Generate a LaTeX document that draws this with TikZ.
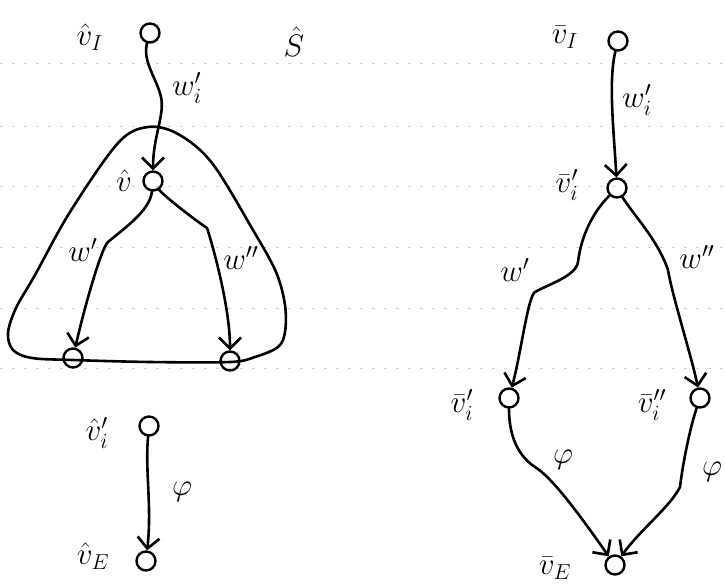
\documentclass[tikz,border=0pt]{standalone}
\usetikzlibrary{arrows.meta}
\begin{document}
\begin{tikzpicture}[x=1pt,y=-1pt,
  vtx/.style={circle,draw,line width=2.4pt,minimum size=19pt,inner sep=0pt},
  edge/.style={line width=2.6pt,line cap=round,line join=round,-{Straight Barb[length=11pt,width=22pt,line width=2.6pt]}},
  hull/.style={line width=2.6pt},
  rule/.style={gray!35,line width=0.8pt,dash pattern=on 3pt off 9pt},
  lbl/.style={font=\huge,scale=1.5,inner sep=0pt}]
\useasboundingbox (0,0) rectangle (725,584);
% faint ruled lines of the paper
\foreach \yy in {63,126,186,247,308,368}
  \draw[rule] (0,\yy) -- (725,\yy);
% ---------- left figure ----------
\node[vtx] (lI) at (150,33) {};
\node[vtx] (lv) at (153,181) {};
\node[vtx] (la) at (73,358) {};
\node[vtx] (lb) at (230,361) {};
\node[vtx] (lc) at (149,426) {};
\node[vtx] (lE) at (146,561) {};
\coordinate (p1) at (161,97);
\coordinate (p2) at (108,242);
\coordinate (p3) at (207,228);
% enclosing curve S
\draw[hull] plot[smooth cycle,tension=0.55] coordinates {
  (148,127) (178,134) (212,163) (253,230) (276,272) (285,305) (285,332)
  (278,347) (255,357) (230,362) (150,362) (73,360) (32,358) (13,350)
  (8,333) (16,308) (35,275) (70,212) (118,143)};
\draw[edge] (lI) .. controls +(-8,28) and +(-4,-18) .. (p1)
  .. controls +(4,18) and +(0,-45) .. (lv);
\draw[edge] (lv) .. controls +(-3,30) and +(14,-12) .. (p2)
  .. controls +(-7,6) and +(10,-45) .. (la);
\draw[edge] (lv) .. controls +(10,14) and +(-15,-10) .. (p3)
  .. controls +(5,15) and +(0,-55) .. (lb);
\draw[edge] (lc) .. controls +(-4,45) and +(6,-55) .. (lE);
\node[lbl] (tlI) at (90,37) {$\hat v_I$};
\node[lbl] (tlS) at (294,42) {$\hat S$};
\node[lbl] (tlw) at (187,88) {$w_i'$};
\node[lbl] (tlv) at (124,181) {$\hat v$};
\node[lbl] (tlw1) at (83,250) {$w'$};
\node[lbl] (tlw2) at (241,258) {$w''$};
\node[lbl] (tlc) at (97,433) {$\hat v_i'$};
\node[lbl] (tlphi) at (182,492) {$\varphi$};
\node[lbl] (tlE) at (93,556) {$\hat v_E$};
% ---------- right figure ----------
\node[vtx] (rI) at (618,41) {};
\node[vtx] (ri) at (617,188) {};
\node[vtx] (ra) at (509,398) {};
\node[vtx] (rb) at (700,398) {};
\node[vtx] (rE) at (615,565) {};
\coordinate (p4) at (578,262);
\coordinate (p5) at (535,292);
\coordinate (p6) at (668,270);
\coordinate (p7) at (535,467);
\coordinate (p8) at (680,487);
\draw[edge] (rI) .. controls +(-10,40) and +(-3,-55) .. (ri);
\draw[edge] (ri) .. controls +(-25,25) and +(3,-25) .. (p4)
  .. controls +(-2,14) and +(14,-8) .. (p5)
  .. controls +(-7,4) and +(12,-45) .. (ra);
\draw[edge] (ri) .. controls +(15,25) and +(-10,-30) .. (p6)
  .. controls +(4,25) and +(-8,-40) .. (rb);
\draw[edge] (ra) .. controls +(0,45) and +(-12,-8) .. (p7)
  .. controls +(20,12) and +(-25,-35) .. (rE);
\draw[edge] (rb) .. controls +(-10,30) and +(3,-25) .. (p8)
  .. controls +(-10,20) and +(25,-35) .. (rE);
\node[lbl] (trI) at (565,37) {$\bar v_I$};
\node[lbl] (trw) at (637,100) {$w_i'$};
\node[lbl] (tri) at (567,185) {$\bar v_i'$};
\node[lbl] (trw1) at (515,270) {$w'$};
\node[lbl] (trw2) at (697,257) {$w''$};
\node[lbl] (tra) at (462,405) {$\bar v_i'$};
\node[lbl] (trb) at (652,405) {$\bar v_i''$};
\node[lbl] (trphi1) at (563,460) {$\varphi$};
\node[lbl] (trphi2) at (712,472) {$\varphi$};
\node[lbl] (trE) at (555,568) {$\bar v_E$};
\end{tikzpicture}
\end{document}
